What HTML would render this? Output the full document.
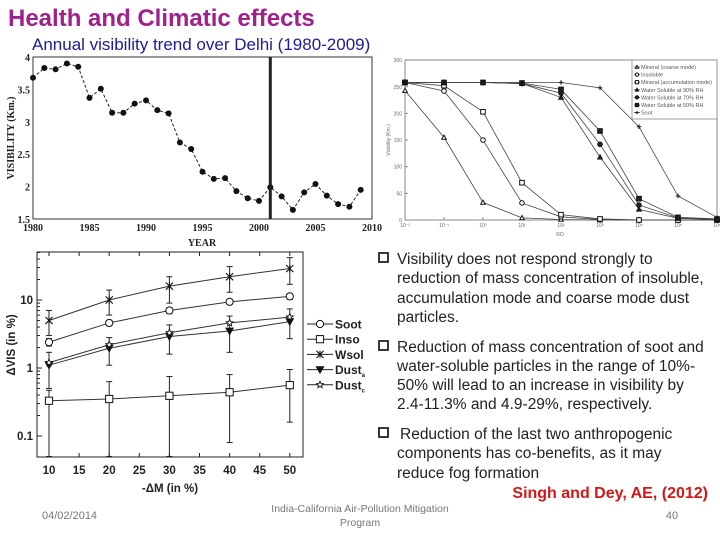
<!DOCTYPE html>
<html><head><meta charset="utf-8"><style>
body{margin:0;background:#fff;width:720px;height:540px;overflow:hidden;font-family:"Liberation Sans",sans-serif}
svg{display:block}
</style></head><body>
<svg id="s" width="720" height="540" viewBox="0 0 720 540">
<text x="8" y="26" font-size="24" font-weight="bold" fill="#a0218c">Health and Climatic effects</text>
<text x="32" y="50" font-size="17" fill="#1c1c96">Annual visibility trend over Delhi (1980-2009)</text>
<g font-size="15.5" fill="#222">
<g><rect x="379" y="253" width="9" height="9" fill="none" stroke="#222" stroke-width="1.8"/>
<text x="397" y="264">Visibility does not respond strongly to</text><text x="397" y="283">reduction of mass concentration of insoluble,</text><text x="397" y="303">accumulation mode and coarse mode dust</text><text x="397" y="322">particles.</text></g>
<g><rect x="379" y="341" width="9" height="9" fill="none" stroke="#222" stroke-width="1.8"/>
<text x="397" y="352">Reduction of mass concentration of soot and</text><text x="397" y="371">water-soluble particles in the range of 10%-</text><text x="397" y="390">50% will lead to an increase in visibility by</text><text x="397" y="409">2.4-11.3% and 4.9-29%, respectively.</text></g>
<g><rect x="379" y="428" width="9" height="9" fill="none" stroke="#222" stroke-width="1.8"/>
<text x="400" y="439">Reduction of the last two anthropogenic</text><text x="397" y="458">components has co-benefits, as it may</text><text x="397" y="478">reduce fog formation</text></g>
</g>
<text x="708" y="498" text-anchor="end" font-size="16" font-weight="bold" fill="#d01818">Singh and Dey, AE, (2012)</text>
<text x="42" y="519" font-size="11" fill="#777">04/02/2014</text>
<text x="360" y="512" text-anchor="middle" font-size="10.5" fill="#777">India-California Air-Pollution Mitigation</text>
<text x="360" y="526" text-anchor="middle" font-size="10.5" fill="#777">Program</text>
<text x="672" y="519" text-anchor="middle" font-size="11" fill="#777">40</text>
<g id="c1"></g>
<g id="c2"></g>
<g id="c3"></g>
</svg>
<script>
// Chart 1 data
const years=[1980,1981,1982,1983,1984,1985,1986,1987,1988,1989,1990,1991,1992,1993,1994,1995,1996,1997,1998,1999,2000,2001,2002,2003,2004,2005,2006,2007,2008,2009];
const visKm=[3.68,3.83,3.81,3.9,3.85,3.37,3.51,3.14,3.14,3.28,3.33,3.18,3.13,2.68,2.58,2.23,2.12,2.13,1.93,1.82,1.78,1.99,1.85,1.64,1.91,2.04,1.86,1.73,1.69,1.95];
const yearTicks=[1980,1985,1990,1995,2000,2005,2010];
const visTicks=[1.5,2,2.5,3,3.5,4];
const markerYear=2001;
// Chart 2 data
const roExp=[-2,-1,0,1,2,3,4,5,6];
const roTickLabels=["10⁻²","10⁻¹","10⁰","10¹","10²","10³","10⁴","10⁵","10⁶"];
const visTicks2=[0,50,100,150,200,250,300];
const mineralCoarse=[243,155,33,4,1,0,0,0,0];
const insoluble=[258,242,150,32,6,1,0,0,0];
const mineralAccum=[258,252,203,70,10,2,0,0,0];
const ws90=[258,258,258,256,230,118,20,3,1];
const ws70=[258,258,258,256,238,142,28,4,1];
const ws50=[258,258,258,257,245,167,40,5,2];
const sootVis=[258,258,258,258,258,248,175,45,5];
const legend2=["Mineral (coarse mode)","Insoluble","Mineral (accumulation mode)","Water Soluble at 90% RH","Water Soluble at 70% RH","Water Soluble at 50% RH","Soot"];
// Chart 3 data
const dM=[10,20,30,40,50];
const dMTicks=[10,15,20,25,30,35,40,45,50];
const soot=[2.4,4.6,7.0,9.4,11.3];
const sootLo=[2.1,4.2,6.3,8.6,10.2];
const sootHi=[2.7,5.0,7.7,10.2,12.4];
const inso=[0.33,0.35,0.39,0.44,0.56];
const insoLo=[0.05,0.05,0.05,0.08,0.16];
const insoHi=[0.47,0.63,0.75,0.8,0.95];
const wsol=[5.0,10,16,22,29];
const wsolLo=[3.0,6.0,9.0,13,17];
const wsolHi=[7.0,14,22,31,42];
const dusta=[1.1,1.95,2.9,3.5,4.8];
const dustaLo=[0.5,1.1,1.6,1.7,2.7];
const dustaHi=[1.7,2.8,4.3,5.8,7.4];
const dustc=[1.2,2.2,3.3,4.6,5.6];
const logTicks=[0.1,1,10];

const NS="http://www.w3.org/2000/svg";
function mk(p,tag,at,txt){const e=document.createElementNS(NS,tag);for(const k in at)e.setAttribute(k,at[k]);if(txt!==undefined)e.textContent=txt;p.appendChild(e);return e;}
function marker(p,type,x,y,r,fill){
  if(type==='circle')return mk(p,'circle',{cx:x,cy:y,r:r,fill:fill,stroke:'#111','stroke-width':1});
  if(type==='square')return mk(p,'rect',{x:x-r,y:y-r,width:2*r,height:2*r,fill:fill,stroke:'#111','stroke-width':1});
  if(type==='tri')return mk(p,'polygon',{points:`${x},${y-r} ${x-r},${y+r*0.8} ${x+r},${y+r*0.8}`,fill:fill,stroke:'#111','stroke-width':1});
  if(type==='dtri')return mk(p,'polygon',{points:`${x},${y+r} ${x-r},${y-r*0.8} ${x+r},${y-r*0.8}`,fill:fill,stroke:'#111','stroke-width':1});
  if(type==='star'){let pts=[];for(let i=0;i<10;i++){const a=-Math.PI/2+i*Math.PI/5,rr=i%2?r*0.45:r;pts.push((x+rr*Math.cos(a)).toFixed(1)+','+(y+rr*Math.sin(a)).toFixed(1));}return mk(p,'polygon',{points:pts.join(' '),fill:fill,stroke:'#111','stroke-width':0.9});}
  if(type==='x'){const g=mk(p,'g',{stroke:'#111','stroke-width':1.1});mk(g,'line',{x1:x-r,y1:y-r,x2:x+r,y2:y+r});mk(g,'line',{x1:x-r,y1:y+r,x2:x+r,y2:y-r});mk(g,'line',{x1:x,y1:y-r,x2:x,y2:y+r});return g;}
  if(type==='plus'){const g=mk(p,'g',{stroke:'#111','stroke-width':1});mk(g,'line',{x1:x-r,y1:y,x2:x+r,y2:y});mk(g,'line',{x1:x,y1:y-r,x2:x,y2:y+r});return g;}
}

// ---- Chart 1
(function(){
const g=document.getElementById('c1');
const X=y=>33+(y-1980)*11.3, Y=v=>57+(4-v)*64.8;
const f='font-family:"Liberation Serif",serif;font-weight:bold';
mk(g,'rect',{x:33,y:57,width:339,height:162,fill:'none',stroke:'#333','stroke-width':1});
visTicks.forEach(t=>{const e=mk(g,'text',{x:30,y:Y(t)+4,'text-anchor':'end','font-size':10,style:f,fill:'#222'},String(t));});
yearTicks.forEach(t=>{const e=mk(g,'text',{x:X(t),y:231,'text-anchor':'middle','font-size':10,style:f,fill:'#222'},String(t));});
const yt=mk(g,'text',{x:14,y:138,'text-anchor':'middle','font-size':10,style:f,fill:'#222',transform:'rotate(-90 14 138)'},'VISIBILITY (Km.)');

const xt=mk(g,'text',{x:202,y:246,'text-anchor':'middle','font-size':10,style:f,fill:'#222'},'YEAR');

const l=mk(g,'polyline',{points:years.map((y,i)=>X(y)+','+Y(visKm[i])).join(' '),fill:'none',stroke:'#222','stroke-width':1,'stroke-dasharray':'3,2'});

years.forEach((y,i)=>{const c=mk(g,'circle',{cx:X(y),cy:Y(visKm[i]),r:3,fill:'#111'});});
const v=mk(g,'line',{x1:X(markerYear),y1:57,x2:X(markerYear),y2:219,stroke:'#222','stroke-width':3});

})();

// ---- Chart 2
(function(){
const g=document.getElementById('c2');
const X=e=>405+(e+2)*39, Y=v=>220-v*0.533;
mk(g,'rect',{x:405,y:60,width:312,height:160,fill:'none',stroke:'#888','stroke-width':1});
visTicks2.forEach(t=>{mk(g,'line',{x1:405,y1:Y(t),x2:408,y2:Y(t),stroke:'#888'});const e=mk(g,'text',{x:402,y:Y(t)+2,'text-anchor':'end','font-size':5,fill:'#666'},String(t));});
roExp.forEach((t,i)=>{mk(g,'line',{x1:X(t),y1:220,x2:X(t),y2:217,stroke:'#888'});const e=mk(g,'text',{x:X(t),y:227,'text-anchor':'middle','font-size':5,fill:'#666'},roTickLabels[i]);});
const yt=mk(g,'text',{x:390,y:140,'text-anchor':'middle','font-size':5,fill:'#666',transform:'rotate(-90 390 140)'},'Visibility (Km.)');

const xt=mk(g,'text',{x:560,y:236,'text-anchor':'middle','font-size':5,fill:'#666'},'RO');

const series=[[mineralCoarse,'tri','#fff'],[insoluble,'circle','#fff'],[mineralAccum,'square','#fff'],[ws90,'tri','#222'],[ws70,'circle','#222'],[ws50,'square','#222'],[sootVis,'plus','#222']];
series.forEach((s,k)=>{
  const l=mk(g,'polyline',{points:roExp.map((e,i)=>X(e)+','+Y(s[0][i])).join(' '),fill:'none',stroke:'#444','stroke-width':0.8});
  
  roExp.forEach((e,i)=>{const m=marker(g,s[1],X(e),Y(s[0][i]),2.3,s[2]);});
});
const lg=mk(g,'g',{});
mk(lg,'rect',{x:632,y:60,width:85,height:59,fill:'#fff',stroke:'#888','stroke-width':0.8});
legend2.forEach((t,i)=>{const y=67+i*7.6;mk(lg,'line',{x1:634,y1:y,x2:640,y2:y,stroke:'#444','stroke-width':0.8});marker(lg,series[i][1],637,y,1.6,series[i][2]);const e=mk(lg,'text',{x:641,y:y+2,'font-size':5.5,fill:'#555'},t);});
})();

// ---- Chart 3
(function(){
const g=document.getElementById('c3');
const X=v=>49+(v-10)*6.02, Y=v=>368-68*Math.log10(v);
const top=252,bot=457;
mk(g,'rect',{x:37,y:top,width:266,height:bot-top,fill:'none',stroke:'#222','stroke-width':1});
dMTicks.forEach(t=>{mk(g,'line',{x1:X(t),y1:bot,x2:X(t),y2:bot-4,stroke:'#222'});mk(g,'line',{x1:X(t),y1:top,x2:X(t),y2:top+4,stroke:'#222'});const e=mk(g,'text',{x:X(t),y:474,'text-anchor':'middle','font-size':11.5,'font-weight':'bold',fill:'#222'},String(t));});
logTicks.forEach(t=>{mk(g,'line',{x1:37,y1:Y(t),x2:42,y2:Y(t),stroke:'#222'});const e=mk(g,'text',{x:33,y:Y(t)+4,'text-anchor':'end','font-size':11.5,'font-weight':'bold',fill:'#222'},String(t));
 for(let k=2;k<10;k++){const y=Y(t*k);if(y>top&&y<bot)mk(g,'line',{x1:37,y1:y,x2:40,y2:y,stroke:'#222'});}});
const yt=mk(g,'text',{x:15,y:345,'text-anchor':'middle','font-size':11.5,'font-weight':'bold',fill:'#222',transform:'rotate(-90 15 345)'},'ΔVIS (in %)');

const xt=mk(g,'text',{x:170,y:492,'text-anchor':'middle','font-size':11.5,'font-weight':'bold',fill:'#222'},'-ΔM (in %)');

const clip=v=>Math.min(bot,Math.max(top,v));
const errs=[[soot,sootLo,sootHi],[inso,insoLo,insoHi],[wsol,wsolLo,wsolHi],[dusta,dustaLo,dustaHi]];
errs.forEach(s=>dM.forEach((d,i)=>{const x=X(d),y1=clip(Y(s[1][i])),y2=clip(Y(s[2][i]));const e=mk(g,'g',{stroke:'#222','stroke-width':1});mk(e,'line',{x1:x,y1:y1,x2:x,y2:y2});if(y1<bot)mk(e,'line',{x1:x-3,y1:y1,x2:x+3,y2:y1});mk(e,'line',{x1:x-3,y1:y2,x2:x+3,y2:y2});}));
const series=[[soot,'circle','#fff','Soot'],[inso,'square','#fff','Inso'],[wsol,'x','#fff','Wsol'],[dusta,'dtri','#111','Dust'],[dustc,'star','#fff','Dust']];
const subs=['','','','a','c'];
series.forEach((s,k)=>{
  const l=mk(g,'polyline',{points:dM.map((d,i)=>X(d)+','+Y(s[0][i])).join(' '),fill:'none',stroke:'#333','stroke-width':1});
  
  dM.forEach((d,i)=>{const m=marker(g,s[1],X(d),Y(s[0][i]),3.6,s[2]);});
  const y=324+k*15.2;
  mk(g,'line',{x1:307,y1:y,x2:333,y2:y,stroke:'#222','stroke-width':1});
  marker(g,s[1],320,y,3.6,s[2]);
  const t=mk(g,'text',{x:335,y:y+4.5,'font-size':12,'font-weight':'bold',fill:'#222'},s[3]);
  
  if(subs[k])mk(t,'tspan',{'font-size':6,dy:3},subs[k]);
});
})();
</script>
</body></html>
